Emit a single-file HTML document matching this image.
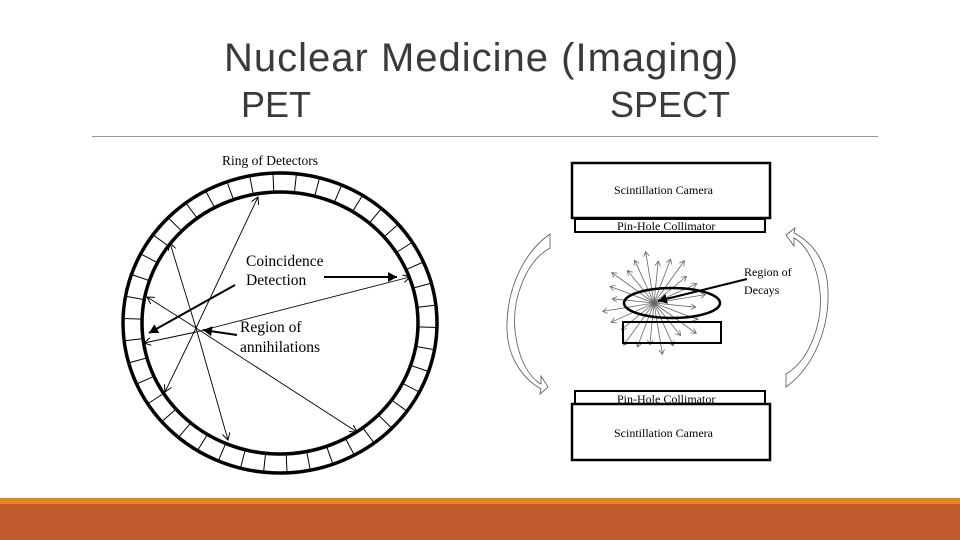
<!DOCTYPE html>
<html><head><meta charset="utf-8"><style>
html,body{margin:0;padding:0;background:#fff;}
body{width:960px;height:540px;position:relative;overflow:hidden;font-family:"Liberation Sans",sans-serif;}
.t{position:absolute;color:#3a3a3a;font-size:40px;white-space:nowrap;}
</style></head><body>
<div class="t" style="left:224px;top:36px;letter-spacing:1px;">Nuclear Medicine (Imaging)</div>
<div class="t" style="left:241px;top:84px;font-size:36px;">PET</div>
<div class="t" style="left:610px;top:84px;font-size:36px;">SPECT</div>
<div style="position:absolute;left:92px;top:136px;width:786px;height:1px;background:#999;"></div>
<div style="position:absolute;left:0;top:498px;width:960px;height:6px;background:#e5861f;"></div>
<div style="position:absolute;left:0;top:504px;width:960px;height:36px;background:#bf5a2c;"></div>
<svg width="960" height="540" style="position:absolute;left:0;top:0" xmlns="http://www.w3.org/2000/svg">
<defs>
<marker id="a" markerWidth="8" markerHeight="8" refX="7" refY="4" orient="auto" markerUnits="userSpaceOnUse"><path d="M0,0 L7,4 L0,8" fill="none" stroke="#000" stroke-width="1"/></marker>
<marker id="b" markerWidth="10" markerHeight="10" refX="9" refY="5" orient="auto" markerUnits="userSpaceOnUse"><path d="M0,0 L9,5 L0,10 z" fill="#000"/></marker>
<marker id="g" markerWidth="6" markerHeight="6" refX="5" refY="3" orient="auto" markerUnits="userSpaceOnUse"><path d="M0,0 L5,3 L0,6" fill="none" stroke="#666" stroke-width="0.8"/></marker>
</defs>
<g fill="none" stroke="#000">
<ellipse cx="280" cy="323" rx="157" ry="150" stroke-width="3.5"/>
<ellipse cx="280" cy="323" rx="138" ry="131" stroke-width="3.5"/>
<g id="ticks" stroke-width="1"></g>
<g stroke-width="0.9">
<line x1="196" y1="328" x2="258" y2="197" marker-end="url(#a)"/>
<line x1="196" y1="328" x2="165" y2="392" marker-end="url(#a)"/>
<line x1="196" y1="328" x2="170" y2="243" marker-end="url(#a)"/>
<line x1="196" y1="328" x2="228" y2="440" marker-end="url(#a)"/>
<line x1="196" y1="328" x2="147" y2="297" marker-end="url(#a)"/>
<line x1="196" y1="328" x2="357" y2="432" marker-end="url(#a)"/>
<line x1="196" y1="332" x2="144" y2="343" marker-end="url(#a)"/>
<line x1="196" y1="332" x2="410" y2="277" marker-end="url(#a)"/>
</g>
<g stroke-width="2">
<line x1="235" y1="285" x2="149" y2="333" marker-end="url(#b)"/>
<line x1="237" y1="335" x2="203" y2="330" marker-end="url(#b)"/>
<line x1="324" y1="277" x2="397" y2="277" marker-end="url(#b)"/>
</g>
<rect x="572" y="163" width="198" height="55" stroke-width="2.5"/>
<rect x="575" y="219" width="190" height="13" stroke-width="2"/>
<rect x="575" y="391" width="190" height="13" stroke-width="2"/>
<rect x="572" y="404" width="198" height="56" stroke-width="2.5"/>
<g id="burst" stroke="#666" stroke-width="0.8"></g>
<ellipse cx="672" cy="303" rx="48" ry="15" stroke-width="2.5"/>
<rect x="623" y="322" width="98" height="21" stroke-width="2"/>
<line x1="747" y1="279" x2="658" y2="301" stroke-width="2" marker-end="url(#b)"/>
<g stroke="#555" stroke-width="0.8">
<path d="M550,234 L550,248 C525,262 512,300 515,330 C518,360 530,378 541,384 L541,376 L548,387 L540,394 L541,389 C525,380 508,360 507,330 C506,295 520,255 550,234 Z"/>
<path d="M786,387 L786,374 C810,360 823,322 820,292 C817,262 805,244 794,238 L794,246 L786,235 L795,228 L794,233 C812,242 828,262 828,292 C829,327 815,366 786,387 Z"/>
</g>
</g>
<g font-family="Liberation Serif,serif" fill="#000">
<text x="222" y="165" font-size="13.5">Ring of Detectors</text>
<text x="246" y="266" font-size="15.5">Coincidence</text>
<text x="246" y="285" font-size="15.5">Detection</text>
<text x="240" y="332" font-size="15.5">Region of</text>
<text x="240" y="352" font-size="15.5">annihilations</text>
<text x="614" y="194" font-size="12">Scintillation Camera</text>
<text x="617" y="230" font-size="12">Pin-Hole Collimator</text>
<text x="617" y="403" font-size="12">Pin-Hole Collimator</text>
<text x="614" y="437" font-size="12">Scintillation Camera</text>
<text x="744" y="276" font-size="12">Region of</text>
<text x="744" y="294" font-size="12">Decays</text>
</g>
</svg>
<script>
var ns="http://www.w3.org/2000/svg";
var t=document.getElementById("ticks");
for(var i=0;i<42;i++){var a=i*2*Math.PI/42+0.03;var c=Math.cos(a),s=Math.sin(a);
var l=document.createElementNS(ns,"line");l.setAttribute("x1",280+138*c);l.setAttribute("y1",323+131*s);
l.setAttribute("x2",280+157*c);l.setAttribute("y2",323+150*s);t.appendChild(l);}
var b=document.getElementById("burst");
for(var i=0;i<24;i++){var a=i*2*Math.PI/24+0.1;var r=42+(i%3)*5;
var l=document.createElementNS(ns,"line");l.setAttribute("x1",654);l.setAttribute("y1",303);
l.setAttribute("x2",654+r*Math.cos(a));l.setAttribute("y2",303+r*Math.sin(a));l.setAttribute("marker-end","url(#g)");b.appendChild(l);}
</script>
</body></html>
